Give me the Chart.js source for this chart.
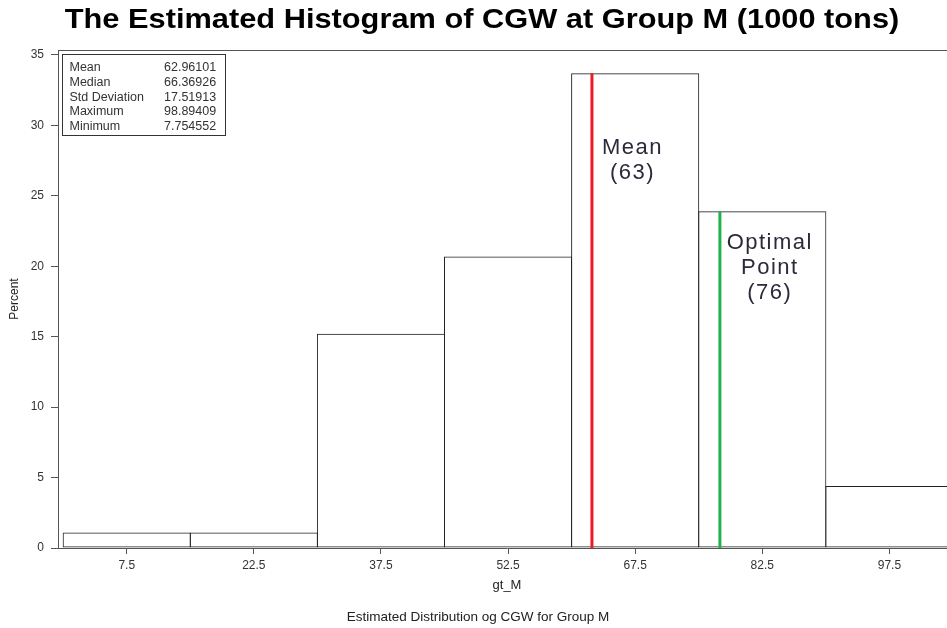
<!DOCTYPE html>
<html>
<head>
<meta charset="utf-8">
<script src="https://cdn.jsdelivr.net/npm/chart.js@4.4.1/dist/chart.umd.min.js"></script>
<style>
  html, body { margin: 0; padding: 0; background: #fff; overflow: hidden; }
  #wrap { width: 964px; height: 628px; }
</style>
</head>
<body>
<div id="wrap"><canvas id="histChart"></canvas></div>
<script>
// histogram bins (midpoints) and percent in each bin
const binMids = [7.5, 22.5, 37.5, 52.5, 67.5, 82.5, 97.5];
const binPercent = [1.1, 1.1, 15.2, 20.7, 33.7, 23.9, 4.4];
const yTicks = [0, 5, 10, 15, 20, 25, 30, 35];

// reference lines (x value, line top)
const meanX = 62.4;
const meanTop = 33.7;
const optimalX = 77.5;
const optimalTop = 23.9;

// summary statistics box
const statNames = ['Mean', 'Median', 'Std Deviation', 'Maximum', 'Minimum'];
const statValues = ['62.96101', '66.36926', '17.51913', '98.89409', '7.754552'];

// text next to the lines
const meanLabel = ['Mean', '(63)'];
const optimalLabel = ['Optimal', 'Point', '(76)'];

const chartTitle = 'The Estimated Histogram of CGW at Group M (1000 tons)';

const FONT = '"Liberation Sans", Arial, Helvetica, sans-serif';

// Title is drawn here since the original is a wide bold face
const titlePlugin = {
  id: 'wideTitle',
  afterDraw(chart) {
    const { ctx, width } = chart;
    ctx.save();
    ctx.font = 'bold 27px ' + FONT;
    ctx.fillStyle = '#000';
    ctx.textAlign = 'center';
    ctx.textBaseline = 'alphabetic';
    ctx.translate(width / 2, 27.5);
    ctx.scale(1.14, 1);
    ctx.fillText(chartTitle, 0, 0);
    ctx.restore();
  }
};

// Draws top frame, stats box and line labels
const extrasPlugin = {
  id: 'extras',
  afterDatasetsDraw(chart) {
    const { ctx, chartArea, scales } = chart;
    const xs = scales.x, ys = scales.y;
    ctx.save();

    // top border of the plot frame
    ctx.strokeStyle = '#555';
    ctx.lineWidth = 1;
    ctx.beginPath();
    ctx.moveTo(chartArea.left, Math.round(chartArea.top) + 0.5);
    ctx.lineTo(chartArea.right, Math.round(chartArea.top) + 0.5);
    ctx.stroke();

    // stats box
    const bx = Math.round(xs.getPixelForValue(0)) - 0.5;
    const by = Math.round(chartArea.top) + 4.5;
    ctx.fillStyle = '#fff';
    ctx.fillRect(bx, by, 163, 81);
    ctx.strokeStyle = '#333';
    ctx.strokeRect(bx, by, 163, 81);
    ctx.font = '12.5px ' + FONT;
    ctx.fillStyle = '#333';
    ctx.textBaseline = 'middle';
    ctx.textAlign = 'left';
    statNames.forEach((name, i) => {
      const ty = by + 13 + i * 14.8;
      ctx.fillText(name, bx + 7, ty);
      ctx.fillText(statValues[i], bx + 101.5, ty);
    });

    // labels near the lines
    ctx.font = '22px ' + FONT;
    ctx.letterSpacing = '1.5px';
    ctx.fillStyle = '#2a2a3a';
    ctx.textAlign = 'center';
    const drawLabel = (lines, xv, yv) => {
      const px = xs.getPixelForValue(xv);
      const py = ys.getPixelForValue(yv);
      lines.forEach((t, i) => ctx.fillText(t, px + 0.75, py + i * 25));
    };
    drawLabel(meanLabel, 67.1, 28.4);
    drawLabel(optimalLabel, 83.3, 21.65);
    ctx.restore();
  }
};

const ctx = document.getElementById('histChart');

new Chart(ctx, {
  type: 'bar',
  data: {
    datasets: [
      {
        type: 'line',
        label: 'Mean',
        data: [{ x: meanX, y: 0 }, { x: meanX, y: meanTop }],
        borderColor: '#ed1c24',
        borderWidth: 3,
        pointRadius: 0,
        order: 0
      },
      {
        type: 'line',
        label: 'Optimal Point',
        data: [{ x: optimalX, y: 0 }, { x: optimalX, y: optimalTop }],
        borderColor: '#22b14c',
        borderWidth: 3,
        pointRadius: 0,
        order: 0
      },
      {
        label: 'Percent',
        data: binMids.map((m, i) => ({ x: m, y: binPercent[i] })),
        backgroundColor: 'rgba(255,255,255,0)',
        borderColor: '#222',
        borderWidth: 1,
        borderSkipped: false,
        inflateAmount: 0,
        barPercentage: 1.008,
        categoryPercentage: 1,
        order: 1
      }
    ]
  },
  options: {
    responsive: true,
    maintainAspectRatio: false,
    animation: false,
    layout: { padding: { left: 0, right: 8, top: 50, bottom: 0 } },
    plugins: {
      legend: { display: false },
      tooltip: { enabled: false },
      title: { display: false },
      subtitle: {
        display: true,
        position: 'bottom',
        text: 'Estimated Distribution og CGW for Group M',
        color: '#222',
        font: { family: FONT, size: 13.5 },
        padding: { top: 9.6, bottom: 2.2 }
      }
    },
    scales: {
      x: {
        type: 'linear',
        min: -0.61,
        max: 105.36,
        offset: false,
        afterBuildTicks: s => { s.ticks = binMids.map(v => ({ value: v })); },
        afterFit: s => { s.height = 52; },
        grid: { drawOnChartArea: false, offset: false, tickLength: 6, color: '#555' },
        border: { color: '#555' },
        ticks: {
          padding: 4,
          color: '#333',
          autoSkip: false,
          maxRotation: 0,
          font: { family: FONT, size: 12 },
          callback: v => Number(v).toFixed(1)
        },
        title: {
          display: true,
          text: 'gt_M',
          color: '#222',
          font: { family: FONT, size: 13 },
          padding: { top: 0, bottom: 7.2 }
        }
      },
      y: {
        min: 0,
        max: 35.35,
        afterBuildTicks: s => { s.ticks = yTicks.map(v => ({ value: v })); },
        afterFit: s => { s.width = 58; },
        grid: { drawOnChartArea: false, tickLength: 7, color: '#555' },
        border: { color: '#555' },
        ticks: {
          padding: 7,
          color: '#333',
          font: { family: FONT, size: 12 }
        },
        title: {
          display: true,
          text: 'Percent',
          color: '#222',
          font: { family: FONT, size: 12 },
          padding: { top: 7, bottom: 0 }
        }
      }
    }
  },
  plugins: [extrasPlugin, titlePlugin]
});
</script>
</body>
</html>
